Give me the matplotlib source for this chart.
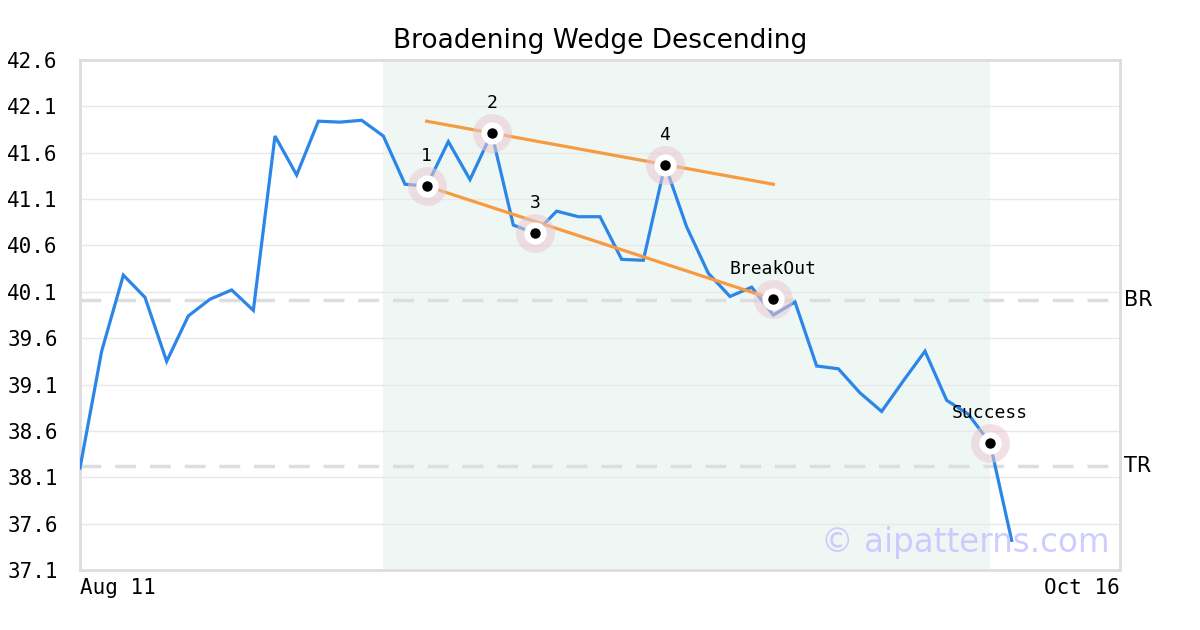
import matplotlib
matplotlib.use("Agg")
import matplotlib.pyplot as plt

# ---- data ----
prices = [38.20, 39.46, 40.28, 40.04, 39.35, 39.84, 40.02, 40.12, 39.90, 41.78,
          41.36, 41.94, 41.93, 41.95, 41.78, 41.26, 41.24, 41.72, 41.31, 41.81,
          40.82, 40.73, 40.97, 40.91, 40.91, 40.45, 40.44, 41.47, 40.80, 40.30,
          40.05, 40.15, 39.85, 39.99, 39.30, 39.27, 39.01, 38.81, 39.14, 39.46,
          38.93, 38.78, 38.47, 37.42]
n_days = 49  # business days Aug 11 .. Oct 16
x_tick_labels = ["Aug 11", "Oct 16"]
y_ticks = [37.1, 37.6, 38.1, 38.6, 39.1, 39.6, 40.1, 40.6, 41.1, 41.6, 42.1, 42.6]

pattern_start, pattern_end = 14, 42
point_labels = ["1", "2", "3", "4", "BreakOut", "Success"]
point_idx = [16, 19, 21, 27, 32, 42]
point_val = [41.24, 41.81, 40.73, 41.47, 40.02, 38.47]
label_offsets = [30, 30, 30, 30, 30, 30]

upper_line_idx = [16, 32]
upper_line_val = [41.94, 41.26]
lower_line_idx = [16, 32]
lower_line_val = [41.24, 40.02]

br_level = 40.01
tr_level = 38.22

# ---- figure ----
fig = plt.figure(figsize=(12, 6.3), dpi=100)
ax = fig.add_axes([80/1200, 60/630, 1040/1200, 510/630])
mono = "DejaVu Sans Mono"

x = list(range(len(prices)))
ax.set_xlim(0, n_days - 1)
ax.set_ylim(37.1, 42.6)

ax.axvspan(pattern_start, pattern_end, color="#eff7f4", zorder=0, lw=0)
for yv in y_ticks:
    ax.axhline(yv, color="#e8e8e8", lw=1, zorder=1)

ax.axhline(br_level, color="#dddddd", lw=2.5, ls=(0, (6, 4)), zorder=2)
ax.axhline(tr_level, color="#dddddd", lw=2.5, ls=(0, (6, 4)), zorder=2)

ax.plot(x, prices, color="#2b86e8", lw=2.3, zorder=3, solid_joinstyle="miter")
ax.plot(upper_line_idx, upper_line_val, color="#f79a40", lw=2.3, zorder=4)
ax.plot(lower_line_idx, lower_line_val, color="#f79a40", lw=2.3, zorder=4)

ax.scatter(point_idx, point_val, s=28**2, color="#e8c8d0", alpha=0.55, lw=0, zorder=5)
ax.scatter(point_idx, point_val, s=16**2, color="white", lw=0, zorder=6)
ax.scatter(point_idx, point_val, s=7.5**2, color="black", lw=0, zorder=7)
for lab, xi, yv, off in zip(point_labels, point_idx, point_val, label_offsets):
    ax.annotate(lab, (xi, yv), xytext=(0, off * 0.72), textcoords="offset points",
                ha="center", va="center", fontsize=13, family=mono, zorder=8)

ax.text(1.004, (br_level - 37.1) / 5.5, "BR", transform=ax.transAxes,
        ha="left", va="center", fontsize=15)
ax.text(1.004, (tr_level - 37.1) / 5.5, "TR", transform=ax.transAxes,
        ha="left", va="center", fontsize=15)

ax.text(0.99, 0.053, "© aipatterns.com", transform=ax.transAxes, ha="right",
        va="center", fontsize=23.5, color="#c8c8ff", alpha=0.9, zorder=9)

ax.set_yticks(y_ticks)
ax.set_yticklabels([f"{v:.1f}" for v in y_ticks], family=mono, fontsize=15)
ax.set_xticks([0, n_days - 1])
xt = ax.set_xticklabels(x_tick_labels, family=mono, fontsize=15)
xt[0].set_ha("left")
xt[1].set_ha("right")
ax.tick_params(axis="x", length=0, pad=6)
ax.tick_params(axis="y", length=0, pad=16)
for s in ax.spines.values():
    s.set_color("#dddddd")
    s.set_linewidth(2)

ax.set_title("Broadening Wedge Descending", fontsize=19, pad=9)

fig.savefig("out.png", dpi=100)
